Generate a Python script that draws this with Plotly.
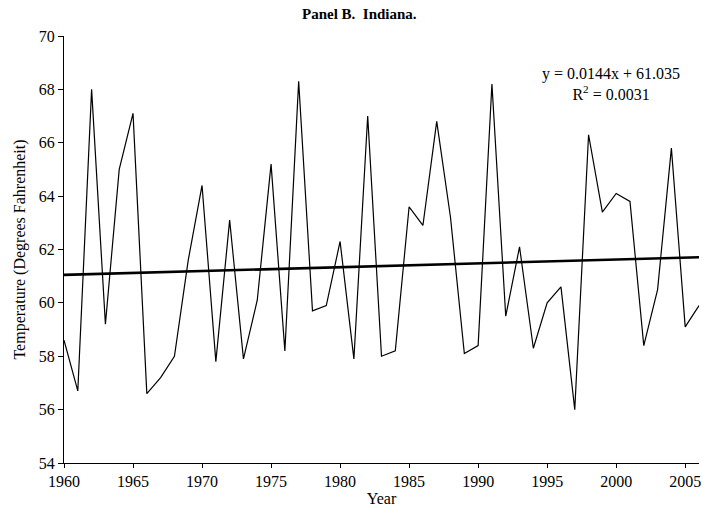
import plotly.graph_objects as go

years = list(range(1960, 2007))
temps = [58.6, 56.7, 68.0, 59.2, 65.0, 67.1, 56.6, 57.2, 58.0, 61.6,
         64.4, 57.8, 63.1, 57.9, 60.1, 65.2, 58.2, 68.3, 59.7, 59.9,
         62.3, 57.9, 67.0, 58.0, 58.2, 63.6, 62.9, 66.8, 63.2, 58.1,
         58.4, 68.2, 59.5, 62.1, 58.3, 60.0, 60.6, 56.0, 66.3, 63.4,
         64.1, 63.8, 58.4, 60.5, 65.8, 59.1, 59.9]
trend_slope = 0.0144
trend_intercept = 61.035
x_ticks = [1960, 1965, 1970, 1975, 1980, 1985, 1990, 1995, 2000, 2005]
y_ticks = [54, 56, 58, 60, 62, 64, 66, 68, 70]

trend_x = [years[0], years[-1]]
trend_y = [trend_slope * 1 + trend_intercept, trend_slope * len(years) + trend_intercept]

FONT = "Liberation Serif, Times New Roman, serif"
FS = 16

fig = go.Figure()
fig.add_trace(go.Scatter(x=years, y=temps, mode="lines",
                         line=dict(color="black", width=1.2), showlegend=False,
                         hoverinfo="skip"))
fig.add_trace(go.Scatter(x=trend_x, y=trend_y, mode="lines",
                         line=dict(color="black", width=2.6), showlegend=False,
                         hoverinfo="skip"))

fig.update_layout(
    width=708, height=521,
    margin=dict(l=64, r=9, t=36, b=58, autoexpand=False),
    paper_bgcolor="white", plot_bgcolor="white",
    font=dict(family=FONT, size=FS, color="black"),
    showlegend=False,
    annotations=[
        dict(text="<b>Panel B.  Indiana.</b>", xref="paper", yref="paper",
             x=(359 - 64) / (699 - 64), y=1 + (36 - 14) / 427, xanchor="center", yanchor="middle",
             showarrow=False, font=dict(family=FONT, size=15)),
        dict(text="y = 0.0144x + 61.035<br>R<sup>2</sup> = 0.0031", xref="paper", yref="paper",
             x=(611 - 64) / (699 - 64), y=1 - (84 - 36) / 427, xanchor="center", yanchor="middle",
             showarrow=False, align="center", font=dict(family=FONT, size=FS)),
    ],
)
fig.update_xaxes(range=[1960, 2006], tickvals=x_ticks, ticks="outside", ticklen=4,
                 tickcolor="black", showline=True, linecolor="black", linewidth=1,
                 showgrid=False, zeroline=False,
                 title=dict(text="Year", standoff=1, font=dict(family=FONT, size=FS)),
                 tickfont=dict(family=FONT, size=FS))
fig.update_yaxes(range=[54, 70], tickvals=y_ticks, ticks="outside", ticklen=5,
                 tickcolor="black", showline=True, linecolor="black", linewidth=1,
                 showgrid=False, zeroline=False,
                 title=dict(text="Temperature (Degrees Fahrenheit)", standoff=9,
                            font=dict(family=FONT, size=FS)),
                 tickfont=dict(family=FONT, size=FS))

fig.write_html("out.html", config={"displayModeBar": False},
               post_script="document.body.style.margin='0px';")
